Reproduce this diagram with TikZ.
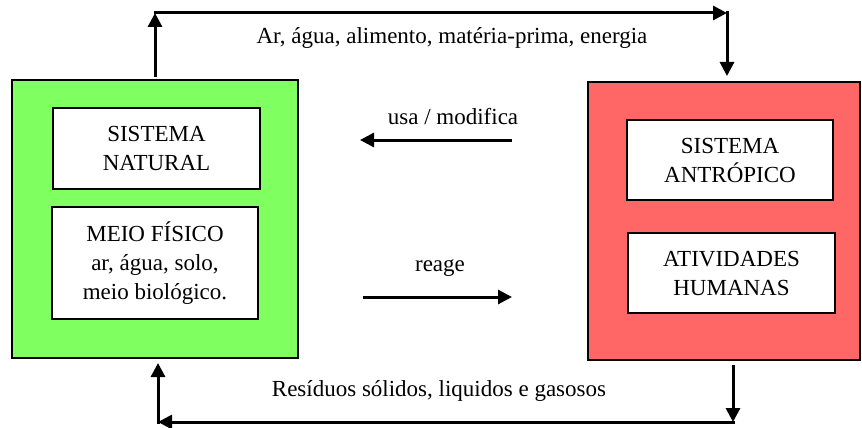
\documentclass[tikz,border=0pt]{standalone}
\usepackage{fontspec}
\setmainfont{Liberation Serif}
\usepackage{tikz}
\usetikzlibrary{arrows.meta, positioning}

\definecolor{natgreen}{RGB}{128,255,96}
\definecolor{antred}{RGB}{255,102,102}

\tikzset{
  outerbox/.style = {
    rectangle, draw, line width = 2pt, minimum width = 286pt,
    minimum height = 278pt, outer sep = 0pt
  },
  innerbox/.style = {
    rectangle, draw, fill = white, line width = 2pt, align = center,
    minimum width = 206pt, minimum height = 80pt, inner sep = 0pt,
    outer sep = 0pt
  },
  flow/.style = {
    draw, line width = 3pt,
    -{Triangle[length = 14pt, width = 14pt]}
  }
}

\begin{document}
\begin{tikzpicture}[x = 1pt, y = -1pt,
    font = \fontsize{23}{29}\selectfont]
      \useasboundingbox (0,0) rectangle (862,428);

      % the two systems
      \node [outerbox, fill = natgreen] (natural) at (155,219) {};
      \node [outerbox, fill = antred, minimum width = 272pt] (antropico)
        at (724,221) {};

      \node [innerbox, minimum width = 207pt, minimum height = 81pt]
        (sisnat) at (156.5,148.5) {SISTEMA\\NATURAL};
      \node [innerbox, minimum height = 112pt] (meio) at (155,263)
        {MEIO FÍSICO\\ar, água, solo,\\meio biológico.};
      \node [innerbox] (sisant) at (730,160) {SISTEMA\\ANTRÓPICO};
      \node [innerbox, minimum width = 207pt] (ativ) at (731.5,273)
        {ATIVIDADES\\HUMANAS};

      % corners of the loops
      \coordinate (tl) at (155,13);
      \coordinate (tr) at (727,13);
      \coordinate (br) at (733,422);
      \coordinate (bl) at (158,422);

      % upper loop
      \draw [flow] ([yshift = 3pt] natural.north) -- (tl);
      \draw [flow] ([xshift = -1.5pt] tl) -- (tr);
      \draw [flow] ([yshift = 1.5pt] tr) -- ([yshift = 6pt] tr |- antropico.north);
      \node (recursos) at (452,38)
        {Ar, água, alimento, matéria-prima, energia};

      % lower loop
      \draw [flow] ([yshift = -5pt] br |- antropico.south) -- (br);
      \draw [flow] ([xshift = 1.5pt] br) -- (bl);
      \draw [flow] ([yshift = -1.5pt] bl) -- ([yshift = -5pt] bl |- natural.south);
      \node (residuos) at (439,391)
        {Resíduos sólidos, liquidos e gasosos};

      % interaction between the systems
      \coordinate (usa-a) at (512,140);
      \coordinate (usa-b) at (360,140);
      \coordinate (reage-a) at (363,297);
      \coordinate (reage-b) at (512,297);
      \draw [flow] (usa-a) -- (usa-b);
      \draw [flow] (reage-a) -- (reage-b);
      \node (usa) at (453,117) {usa / modifica};
      \node (reage) at (440,268) {reage};
    \end{tikzpicture}
\end{document}
